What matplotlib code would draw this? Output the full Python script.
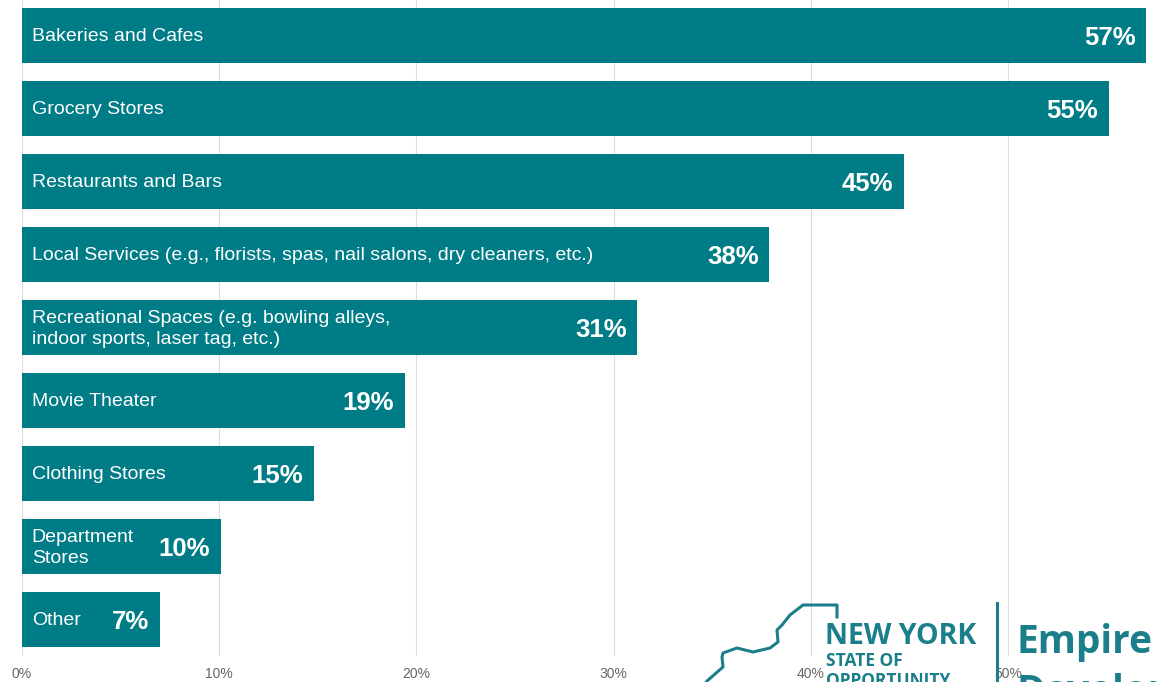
import matplotlib.pyplot as plt
from matplotlib.lines import Line2D

plt.rcParams['font.family'] = ['Liberation Sans', 'DejaVu Sans']

categories = ['Bakeries and Cafes', 'Grocery Stores', 'Restaurants and Bars',
              'Local Services (e.g., florists, spas, nail salons, dry cleaners, etc.)',
              'Recreational Spaces (e.g. bowling alleys,\nindoor sports, laser tag, etc.)',
              'Movie Theater', 'Clothing Stores', 'Department\nStores', 'Other']
values = [57.0, 55.1, 44.7, 37.9, 31.2, 19.4, 14.8, 10.1, 7.0]
value_labels = ['57%', '55%', '45%', '38%', '31%', '19%', '15%', '10%', '7%']
ticks = [0, 10, 20, 30, 40, 50]
tick_labels = ['0%', '10%', '20%', '30%', '40%', '50%']

teal = '#007c87'

fig = plt.figure(figsize=(11.58, 6.82), dpi=100)
ax = fig.add_axes([22 / 1158, 26 / 682, 1136 / 1158, 657 / 682])

ypos = list(range(len(categories)))
ax.barh(ypos, values, height=0.76, color=teal, zorder=2)
for y, v, cat, lab in zip(ypos, values, categories, value_labels):
    ax.text(0.5, y + 0.02, cat, color='white', fontsize=14, va='center',
            ha='left', linespacing=1.3, zorder=3)
    ax.text(v - 0.55, y + 0.03, lab, color='white', fontsize=18.5,
            fontweight='bold', va='center', ha='right', zorder=3)

ax.set_ylim(len(categories) - 0.5, -0.5)
ax.set_xlim(0, 57.6)
ax.set_xticks(ticks)
ax.set_xticklabels(tick_labels, color='#666666', fontsize=10)
ax.set_yticks([])
ax.tick_params(axis='x', length=0, pad=8)
ax.grid(axis='x', color='#dddddd', linewidth=0.8, zorder=0)
for s in ax.spines.values():
    s.set_visible(False)

# logo, bottom right, cut off by the figure edge
logo = '#1a7f8a'
W, H = 1158, 682
ox = [705, 707, 723, 722, 723, 737, 753, 770, 778, 777, 782, 790, 803, 837, 837]
oy = [684, 681, 667, 657, 653, 648, 652, 648, 642, 630, 625, 615, 605, 605, 617]
fig.add_artist(Line2D([x / W for x in ox], [1 - y / H for y in oy],
                      color=logo, linewidth=2.2, transform=fig.transFigure,
                      solid_joinstyle='round'))
fig.text(825 / W, 1 - 636 / H, 'NEW YORK', color=logo, fontsize=20.5,
         fontweight='bold', family='Open Sans', va='center', ha='left')
fig.text(826 / W, 1 - 661 / H, 'STATE OF', color=logo, fontsize=12.5,
         fontweight='bold', family='Open Sans', va='center', ha='left')
fig.text(826 / W, 1 - 681 / H, 'OPPORTUNITY', color=logo, fontsize=12.5,
         fontweight='bold', family='Open Sans', va='center', ha='left')
fig.add_artist(Line2D([997 / W, 997 / W], [1 - 603 / H, 0], color=logo,
                      linewidth=2.2, transform=fig.transFigure))
fig.text(1017 / W, 1 - 642 / H, 'Empire', color=logo, fontsize=28,
         fontweight='bold', family='Open Sans', va='center', ha='left')
fig.text(1017 / W, 1 - 693 / H, 'Development', color=logo, fontsize=28,
         fontweight='bold', family='Open Sans', va='center', ha='left')

fig.savefig('out.png', dpi=100)
